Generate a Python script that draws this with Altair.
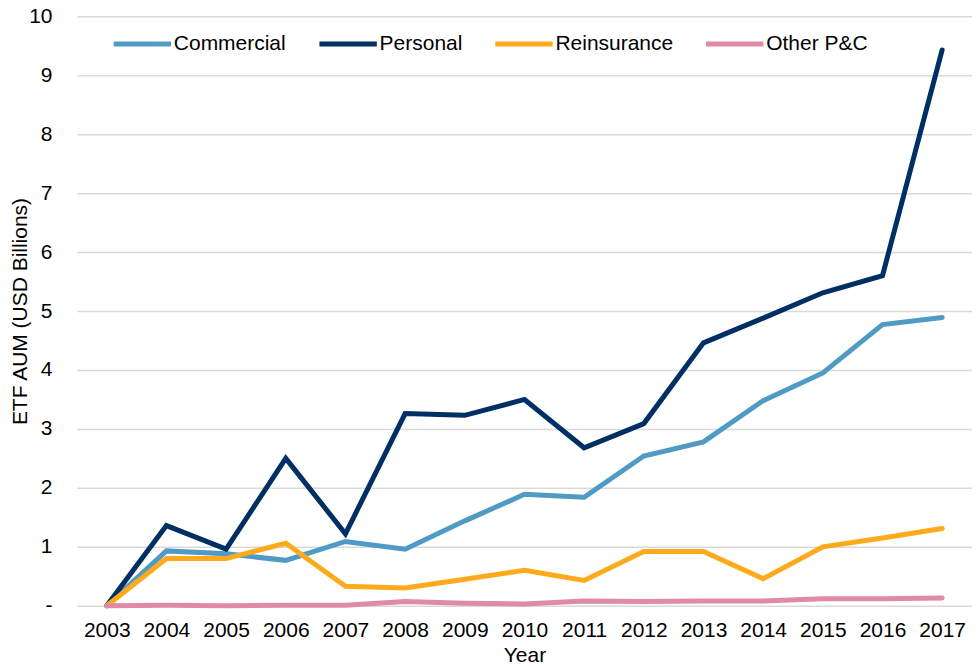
import altair as alt
import pandas as pd

years = [str(y) for y in range(2003, 2018)]
series_names = ["Commercial", "Personal", "Reinsurance", "Other P&C"]
commercial = [0, 0.93, 0.88, 0.77, 1.09, 0.96, 1.44, 1.89, 1.84, 2.54, 2.78, 3.48, 3.95, 4.77, 4.89]
personal = [0, 1.36, 0.96, 2.50, 1.22, 3.26, 3.23, 3.50, 2.68, 3.09, 4.46, 4.88, 5.31, 5.60, 9.43]
reinsurance = [0, 0.80, 0.80, 1.06, 0.33, 0.30, 0.45, 0.60, 0.43, 0.92, 0.92, 0.46, 1.00, 1.15, 1.31]
other_pc = [0, 0.01, 0.0, 0.01, 0.01, 0.07, 0.04, 0.03, 0.08, 0.07, 0.08, 0.08, 0.12, 0.12, 0.13]
colors = ["#4F9BC4", "#002F63", "#FFAA1D", "#E08AA6"]

rows = []
for i, (name, vals) in enumerate(zip(series_names, [commercial, personal, reinsurance, other_pc])):
    for y, v in zip(years, vals):
        rows.append({"Year": y, "Value": v, "Series": name, "order": i})
df = pd.DataFrame(rows)

font = "Liberation Sans"
fs = 21

chart = alt.Chart(df).mark_line(strokeWidth=5, strokeCap="round", strokeJoin="miter").encode(
    x=alt.X("Year:O", title="Year",
            scale=alt.Scale(type="point", padding=0.5),
            axis=alt.Axis(labelAngle=0, ticks=False, domain=False, grid=False,
                          labelFontSize=fs, labelPadding=14, titleFontSize=fs,
                          titleFontWeight="normal", titlePadding=4, labelColor="black",
                          titleColor="black", labelFont=font, titleFont=font)),
    y=alt.Y("Value:Q", title="ETF AUM (USD Billions)",
            scale=alt.Scale(domain=[0, 10], nice=False),
            axis=alt.Axis(values=list(range(0, 11)), ticks=False, domain=False,
                          labelExpr="datum.value == 0 ? '-' : datum.label",
                          labelFontSize=fs, labelPadding=25, titleFontSize=fs,
                          titleFontWeight="normal", titlePadding=-2, labelColor="black",
                          titleColor="black", gridColor="#d9d9d9", gridWidth=1.5,
                          labelFont=font, titleFont=font)),
    color=alt.Color("Series:N", sort=series_names,
                    scale=alt.Scale(domain=series_names, range=colors),
                    legend=alt.Legend(title=None, orient="none", direction="horizontal",
                                      legendX=34, legendY=-4, symbolType="stroke",
                                      symbolSize=3300, symbolStrokeWidth=5,
                                      labelFontSize=fs, labelFont=font, labelColor="black",
                                      columnPadding=22, labelOffset=0, labelLimit=250)),
    order=alt.Order("order:Q"),
).properties(
    width=896, height=590,
    padding={"left": 69, "top": 8, "right": 0, "bottom": 62},
    autosize=alt.AutoSizeParams(type="none"),
).configure_view(stroke=None)

chart.save("out.html", embed_options={"renderer": "svg", "actions": False})
